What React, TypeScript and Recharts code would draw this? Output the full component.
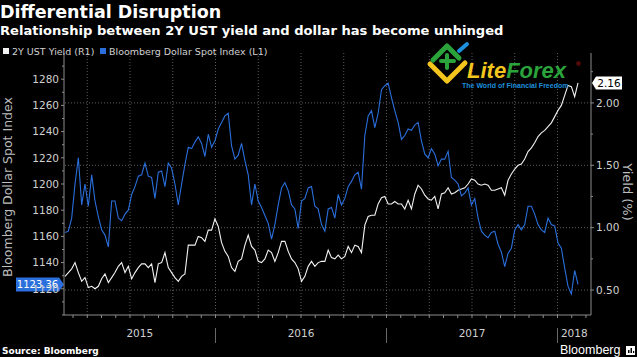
import React from "react";
import { LineChart, Line, XAxis, YAxis, ReferenceLine } from "recharts";

const WIDTH = 637;
const HEIGHT = 357;

// weekly observations, first one mid Feb 2015
const FIRST_WEEK = 2015.12;
const WEEK_STEP = 3 / 154;

// Bloomberg Dollar Spot Index (left axis)
const dollarIndex = [
  1163, 1164, 1174, 1200, 1220, 1184, 1200, 1183, 1207, 1187,
  1175, 1165, 1161, 1152, 1187, 1187, 1174, 1172, 1177, 1180,
  1192, 1198, 1206, 1207, 1216, 1206, 1205, 1189, 1209, 1210,
  1198, 1216, 1212, 1200, 1184, 1200, 1215, 1228, 1227, 1232,
  1236, 1231, 1221, 1238, 1228, 1233, 1242, 1247, 1252, 1254,
  1229, 1219, 1222, 1231, 1218, 1207, 1184, 1200, 1187, 1182,
  1176, 1170, 1158, 1169, 1184, 1197, 1201, 1195, 1184, 1181,
  1166, 1187, 1189, 1197, 1198, 1183, 1181, 1169, 1164, 1181,
  1182, 1174, 1192, 1184, 1189, 1198, 1202, 1207, 1209, 1196,
  1237, 1252, 1256, 1243, 1254, 1272, 1275, 1277, 1266, 1256,
  1247, 1234, 1237, 1242, 1241, 1245, 1247, 1233, 1223, 1220,
  1227, 1223, 1214, 1219, 1219, 1225, 1205, 1203, 1200, 1191,
  1193, 1197, 1184, 1189, 1174, 1164, 1161, 1159, 1163, 1164,
  1154, 1148, 1137, 1147, 1151, 1165, 1169, 1165, 1169, 1183,
  1183, 1177, 1169, 1165, 1163, 1174, 1169, 1168, 1155, 1151,
  1136, 1122, 1116, 1134, 1123.36,
];

// 2Y UST yield, % (right axis)
const ust2y = [
  0.61, 0.64, 0.67, 0.72, 0.64, 0.57, 0.6, 0.52, 0.53, 0.51,
  0.53, 0.59, 0.63, 0.56, 0.6, 0.64, 0.69, 0.72, 0.64, 0.69,
  0.59, 0.64, 0.68, 0.71, 0.71, 0.68, 0.71, 0.56, 0.71, 0.72,
  0.8, 0.68, 0.64, 0.6, 0.57, 0.61, 0.63, 0.86, 0.86, 0.86,
  0.93, 0.92, 0.89, 0.98, 0.98, 1.07, 1.01, 0.88, 0.81, 0.77,
  0.68, 0.65, 0.73, 0.75, 0.86, 0.94, 0.85, 0.82, 0.73, 0.72,
  0.75, 0.82, 0.8, 0.73, 0.8, 0.89, 0.89, 0.81, 0.75, 0.72,
  0.67, 0.57, 0.61, 0.69, 0.73, 0.69, 0.72, 0.73, 0.73, 0.82,
  0.76, 0.75, 0.78, 0.75, 0.77, 0.85, 0.8, 0.86, 0.85, 0.8,
  1.02, 1.09, 1.1, 1.1, 1.19, 1.24, 1.25, 1.19, 1.19, 1.21,
  1.19, 1.19, 1.15, 1.22, 1.15, 1.27, 1.34, 1.31, 1.26, 1.23,
  1.22, 1.25, 1.15, 1.27, 1.28, 1.32, 1.27, 1.28, 1.3, 1.31,
  1.32, 1.35, 1.39, 1.38, 1.35, 1.34, 1.35, 1.34, 1.3, 1.3,
  1.31, 1.32, 1.26, 1.38, 1.43, 1.47, 1.5, 1.51, 1.55, 1.61,
  1.64, 1.68, 1.73, 1.76, 1.78, 1.81, 1.84, 1.89, 1.94, 1.98,
  2.06, 2.14, 2.13, 2.05, 2.16,
];

const years = [2015, 2016, 2017, 2018];
const dollarTicks = [
  1100, 1110, 1120, 1130, 1140, 1150, 1160, 1170, 1180, 1190,
  1200, 1210, 1220, 1230, 1240, 1250, 1260, 1270, 1280, 1290,
];
const dollarLabels = [1140, 1160, 1180, 1200, 1220, 1240, 1260, 1280, 1120];
const yieldTicks = [0.5, 0.75, 1, 1.25, 1.5, 1.75, 2, 2.25];
const yieldLabels = [0.5, 1, 1.5, 2];

const X_DOMAIN: [number, number] = [2015.114, 2018.196];

const BLUE = "#2a6fdc";
const WHITE = "#f2f2f2";
const AXIS = "#8c8c8c";
const GRID = "#5c5c5c";
const TEXT = "#d0d0d0";
const FONT = "'DejaVu Sans', sans-serif";

const data = dollarIndex.map((v, i) => ({
  t: FIRST_WEEK + i * WEEK_STEP,
  dollar: v,
  yld: ust2y[i],
}));

const monthTicks: number[] = [];
for (let y = 2015; y <= 2018; y++) {
  for (let m = 0; m < 12; m++) {
    const t = y + m / 12;
    if (t > X_DOMAIN[0] && t < X_DOMAIN[1]) monthTicks.push(t);
  }
}
const quarterLines = monthTicks.filter(
  (t) => Math.round((t - 2015) * 12) % 3 === 0
);
// year labels sit in the middle of the visible part of each year
const yearMids = years.map(
  (y) =>
    (Math.max(y, X_DOMAIN[0]) + Math.min(y + 1, X_DOMAIN[1])) / 2 + 0.0001
);

const XTick = (props: any) => {
  const { x, y, payload } = props;
  const v = payload.value;
  const yi = yearMids.findIndex((m) => Math.abs(m - v) < 1e-7);
  if (yi >= 0) {
    return (
      <text x={x} y={y + 22} textAnchor="middle" fill={TEXT} fontSize={10.5} fontFamily={FONT}>
        {years[yi]}
      </text>
    );
  }
  const jan = Math.abs(v - Math.round(v)) < 1e-6;
  return (
    <g>
      <line x1={x} x2={x} y1={y} y2={y + 3} stroke={AXIS} />
      {jan && <line x1={x} x2={x} y1={y + 13} y2={y + 28} stroke="#6a6a6a" />}
    </g>
  );
};

const LeftTick = (props: any) => {
  const { x, y, payload } = props;
  const v = payload.value;
  const labelled = dollarLabels.includes(v);
  return (
    <g>
      <line x1={x - (labelled ? 3 : 2)} x2={x} y1={y} y2={y} stroke={AXIS} />
      {labelled && (
        <text x={x - 5} y={y} dy="0.36em" textAnchor="end" fill={TEXT} fontSize={10.5} fontFamily={FONT}>
          {v}
        </text>
      )}
    </g>
  );
};

const RightTick = (props: any) => {
  const { x, y, payload } = props;
  const v = payload.value;
  const labelled = yieldLabels.includes(v);
  return (
    <g>
      <line x1={x} x2={x + (labelled ? 3 : 2)} y1={y} y2={y} stroke={AXIS} />
      {labelled && (
        <text x={x + 5} y={y} dy="0.36em" textAnchor="start" fill={TEXT} fontSize={10.5} fontFamily={FONT}>
          {v.toFixed(2)}
        </text>
      )}
    </g>
  );
};

const DollarBox = (props: any) => {
  const { x, y } = props.viewBox;
  const h = 7;
  const d = `M${x} ${y} L${x - 5} ${y - h} L${x - 48} ${y - h} L${x - 48} ${y + h} L${x - 5} ${y + h} Z`;
  return (
    <g>
      <path d={d} fill={BLUE} />
      <text x={x - 26.5} y={y} dy="0.36em" textAnchor="middle" fill="#fff" fontSize={10} fontFamily={FONT}>
        {dollarIndex[dollarIndex.length - 1].toFixed(2)}
      </text>
    </g>
  );
};

const YieldBox = (props: any) => {
  const { x, y, width } = props.viewBox;
  const r = x + width + 1;
  const h = 6.5;
  const d = `M${r} ${y} L${r + 4} ${y - h} L${r + 30} ${y - h} L${r + 30} ${y + h} L${r + 4} ${y + h} Z`;
  return (
    <g>
      <path d={d} fill="#fff" />
      <text x={r + 17} y={y} dy="0.36em" textAnchor="middle" fill="#000" fontSize={10.5} fontFamily={FONT}>
        {ust2y[ust2y.length - 1].toFixed(2)}
      </text>
    </g>
  );
};

function Overlay() {
  return (
    <svg
      width={WIDTH}
      height={HEIGHT}
      style={{ position: "absolute", left: 0, top: 0, pointerEvents: "none" }}
    >
      <text x={0} y={18} fill="#fff" fontSize={17.5} fontWeight="bold" fontFamily={FONT}>
        Differential Disruption
      </text>
      <text x={0} y={34.5} fill="#fff" fontSize={13.1} fontWeight="bold" fontFamily={FONT}>
        Relationship between 2Y UST yield and dollar has become unhinged
      </text>

      {/* legend */}
      <rect x={3} y={48} width={6} height={6} fill={WHITE} />
      <text x={12} y={55} fill={TEXT} fontSize={9.5} fontFamily={FONT}>
        2Y UST Yield (R1)
      </text>
      <rect x={100} y={48} width={6} height={6} fill={BLUE} />
      <text x={109} y={55} fill={TEXT} fontSize={9.5} fontFamily={FONT}>
        Bloomberg Dollar Spot Index (L1)
      </text>

      {/* axis titles */}
      <text
        x={12}
        y={187}
        transform="rotate(-90 12 187)"
        textAnchor="middle"
        fill="#bdbdbd"
        fontSize={12.5}
        fontFamily={FONT}
      >
        Bloomberg Dollar Spot Index
      </text>
      <text
        x={623}
        y={192}
        transform="rotate(90 623 192)"
        textAnchor="middle"
        fill="#bdbdbd"
        fontSize={13}
        fontFamily={FONT}
      >
        Yield (%)
      </text>

      <text x={2} y={354} fill="#fff" fontSize={9} fontWeight="bold" fontFamily={FONT}>
        Source: Bloomberg
      </text>
      <text x={560} y={354} fill="#fff" fontSize={12.5} fontFamily="'Liberation Sans', sans-serif">
        Bloomberg
      </text>
      <rect x={626} y={346} width={9} height={9} fill="#fff" />
      <rect x={628} y={350} width={1.5} height={3} fill="#000" />
      <rect x={630.5} y={348} width={1.5} height={5} fill="#000" />
      <rect x={633} y={351} width={1.2} height={2} fill="#000" />

      {/* LiteForex watermark */}
      <polyline points="430,64 447,81 465,63" fill="none" stroke="#f4c51c" strokeWidth={5} strokeLinecap="round" strokeLinejoin="round" />
      <polyline points="433,60 447,46 459,58" fill="none" stroke="#2aa33b" strokeWidth={5} strokeLinecap="round" strokeLinejoin="round" />
      <line x1={441} y1={61} x2={454} y2={61} stroke="#2aa33b" strokeWidth={4} strokeLinecap="round" />
      <line x1={447} y1={55} x2={447} y2={68} stroke="#2aa33b" strokeWidth={4} strokeLinecap="round" />
      <line x1={459} y1={51} x2={467} y2={44} stroke="#1e90e0" strokeWidth={4} strokeLinecap="round" />
      <text x={467} y={78} fontSize={22} fontWeight="bold" fontStyle="italic" fontFamily="'Liberation Sans', sans-serif">
        <tspan fill="#f4c51c">Lite</tspan>
        <tspan fill="#2aa33b">Forex</tspan>
      </text>
      <text x={576} y={66} fontSize={6} fill="#e02020" fontFamily="'Liberation Sans', sans-serif">
        ®
      </text>
      <text x={462} y={88} fontSize={7} fontWeight="bold" fill="#1e8fdc" fontFamily="'Liberation Sans', sans-serif">
        The World of Financial Freedom
      </text>
    </svg>
  );
}

export default function App() {
  return (
    <div
      style={{
        position: "absolute",
        left: 0,
        top: 0,
        width: WIDTH,
        height: HEIGHT,
        background: "#000",
        overflow: "hidden",
      }}
    >
      <LineChart
        width={WIDTH}
        height={HEIGHT}
        data={data}
        margin={{ top: 53, right: 0, bottom: 0, left: 0 }}
      >
        <XAxis
          dataKey="t"
          type="number"
          domain={X_DOMAIN}
          allowDataOverflow
          ticks={[...monthTicks, ...yearMids]}
          interval={0}
          tickSize={0}
          tickMargin={0}
          tickLine={false}
          axisLine={{ stroke: AXIS }}
          tick={<XTick />}
          height={42}
        />
        <YAxis
          yAxisId="left"
          orientation="left"
          domain={[1100, 1300]}
          ticks={dollarTicks}
          interval={0}
          width={64}
          tickSize={0}
          tickMargin={0}
          tickLine={false}
          axisLine={{ stroke: AXIS }}
          tick={<LeftTick />}
        />
        <YAxis
          yAxisId="right"
          orientation="right"
          domain={[0.3, 2.4]}
          ticks={yieldTicks}
          interval={0}
          width={46}
          tickSize={0}
          tickMargin={0}
          tickLine={false}
          axisLine={{ stroke: AXIS }}
          tick={<RightTick />}
        />

        {yieldLabels.map((v) => (
          <ReferenceLine key={"h" + v} yAxisId="right" y={v} stroke={GRID} strokeDasharray="1 2" />
        ))}
        {quarterLines.map((t) => (
          <ReferenceLine key={"v" + t} yAxisId="left" x={t} stroke={GRID} strokeDasharray="1 2" />
        ))}

        <Line
          yAxisId="right"
          dataKey="yld"
          stroke={WHITE}
          strokeWidth={1.1}
          dot={false}
          isAnimationActive={false}
        />
        <Line
          yAxisId="left"
          dataKey="dollar"
          stroke={BLUE}
          strokeWidth={1.1}
          dot={false}
          isAnimationActive={false}
        />

        <ReferenceLine
          yAxisId="left"
          y={dollarIndex[dollarIndex.length - 1]}
          stroke="none"
          label={<DollarBox />}
        />
        <ReferenceLine
          yAxisId="right"
          y={ust2y[ust2y.length - 1]}
          stroke="none"
          label={<YieldBox />}
        />
      </LineChart>
      <Overlay />
    </div>
  );
}
